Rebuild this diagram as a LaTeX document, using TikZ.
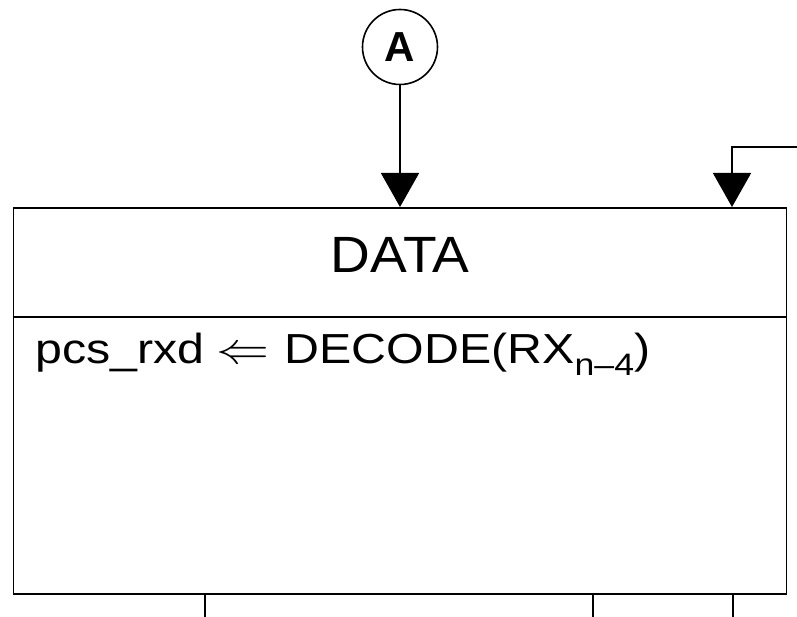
\documentclass[tikz,border=0pt]{standalone}
\usepackage{fontspec}
\setmainfont{Liberation Sans}
\usetikzlibrary{arrows.meta}
\tikzset{
  ln/.style={line width=1.6pt},
  arr/.style={ln, -{Triangle[width=38pt,length=34pt]}},
  conn/.style={draw, circle, ln, minimum size=75pt, inner sep=0pt, font=\fontsize{42}{42}\selectfont\bfseries},
}
\newcommand{\lar}{\raisebox{0pt}{\scalebox{4.6}[4.4]{\fontsize{10}{12}\selectfont$\Leftarrow$}}}
\begin{document}
\begin{tikzpicture}[x=1pt,y=-1pt]
\useasboundingbox (0,0) rectangle (797,617);
\node[draw, ln, anchor=north west, minimum width=773pt, minimum height=386pt, inner sep=0pt] (box) at (12.5,207) {};
\coordinate (divL) at (12.5,317);
\coordinate (divR) at (785.5,317);
\draw[ln] (divL) -- (divR);
\node[conn] (A) at (400,47) {A};
\draw[arr] (A.south) -- (A.south |- box.north);
\coordinate (rin) at (797,147);
\coordinate (rturn) at (732,147);
\draw[arr] (rin) -- (rturn) -- (rturn |- box.north);
\node[anchor=base, inner sep=0pt, font=\fontsize{51}{51}\selectfont] (title) at (400,273) {\scalebox{1.08}[1]{DATA}};
\node[anchor=base west, inner sep=0pt, font=\fontsize{42}{42}\selectfont] (act) at (35,363)
  {\scalebox{1.15}[1]{pcs\_rxd\hspace{11pt}\lar\hspace{13pt}DECODE(RX\raisebox{-12pt}{\fontsize{31}{31}\selectfont n–4})}};
\coordinate (b1) at (205,617);
\coordinate (b2) at (593,617);
\coordinate (b3) at (733,617);
\draw[ln] (b1 |- box.south) -- (b1);
\draw[ln] ([yshift=2pt]b2 |- box.south) -- (b2);
\draw[ln] (b3 |- box.south) -- (b3);
\end{tikzpicture}
\end{document}
